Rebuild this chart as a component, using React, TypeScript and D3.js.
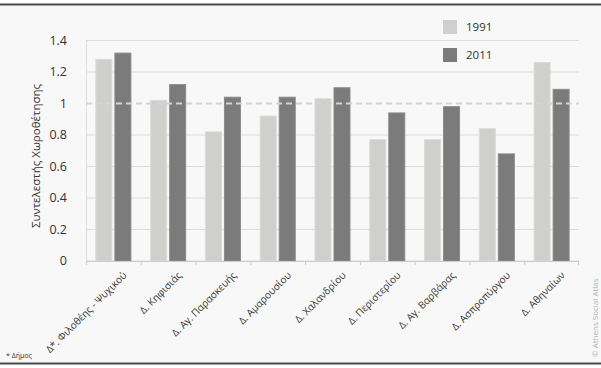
import * as d3 from 'd3'

const categories = [
  'Δ*. Φιλοθέης - Ψυχικού',
  'Δ. Κηφισιάς',
  'Δ. Αγ. Παρασκευής',
  'Δ. Αμαρουσίου',
  'Δ. Χαλανδρίου',
  'Δ. Περιστερίου',
  'Δ. Αγ. Βαρβάρας',
  'Δ. Ασπροπύργου',
  'Δ. Αθηναίων',
]
const values1991 = [1.28, 1.02, 0.82, 0.92, 1.03, 0.77, 0.77, 0.84, 1.26]
const values2011 = [1.32, 1.12, 1.04, 1.04, 1.1, 0.94, 0.98, 0.68, 1.09]
const yTicks = [0, 0.2, 0.4, 0.6, 0.8, 1, 1.2, 1.4]
const seriesNames = ['1991', '2011']

const W = 601
const H = 368
const margin = { top: 40.5, right: 22, bottom: 107, left: 86 }
const font = '"Open Sans", "Noto Sans", sans-serif'
const lightFill = '#cfcfcd'
const darkFill = '#7b7b7b'

export default function App() {
  const innerW = W - margin.left - margin.right
  const innerH = H - margin.top - margin.bottom

  const x = d3.scaleBand<string>().domain(categories).range([0, innerW])
  const y = d3.scaleLinear().domain([0, 1.4]).range([innerH, 0])
  const barW = 16
  const gap = 3

  return (
    <svg
      width={W}
      height={H}
      style={{ position: 'absolute', left: 0, top: 0, display: 'block', fontFamily: font }}
    >
      <rect x={0} y={0} width={W} height={H} fill="#ffffff" />
      <rect x={0} y={5} width={W} height={358} fill="#f8f8f8" />
      <line x1={0} x2={W} y1={4.5} y2={4.5} stroke="#4a4a4a" strokeWidth={2} />
      <line x1={0} x2={W} y1={363.5} y2={363.5} stroke="#4a4a4a" strokeWidth={2} />

      <g transform={`translate(${margin.left},${margin.top})`}>
        {yTicks.map((t) => (
          <g key={t}>
            {t !== 1 && (
              <line x1={0} x2={innerW} y1={y(t)} y2={y(t)} stroke="#dcdcdc" strokeWidth={1} />
            )}
            <text
              x={-19}
              y={y(t)}
              dy="0.35em"
              textAnchor="end"
              fontSize={12.5}
              fill="#333"
            >
              {d3.format('')(t)}
            </text>
          </g>
        ))}
        <line x1={0.5} x2={0.5} y1={0} y2={innerH} stroke="#dcdcdc" />
        {categories.map((c) => (
          <line
            key={'tk' + c}
            x1={(x(c) ?? 0) + 0.5}
            x2={(x(c) ?? 0) + 0.5}
            y1={innerH}
            y2={innerH + 4}
            stroke="#cccccc"
          />
        ))}
        <line x1={innerW - 0.5} x2={innerW - 0.5} y1={innerH} y2={innerH + 4} stroke="#cccccc" />

        {categories.map((c, i) => {
          const cx = (x(c) ?? 0) + x.bandwidth() / 2
          return (
            <g key={c}>
              <rect
                x={cx - gap / 2 - barW}
                y={y(values1991[i])}
                width={barW}
                height={innerH - y(values1991[i])}
                fill={lightFill}
                stroke="#dadad8"
                strokeWidth={1}
              />
              <rect
                x={cx + gap / 2}
                y={y(values2011[i])}
                width={barW}
                height={innerH - y(values2011[i])}
                fill={darkFill}
                stroke="#8a8a8a"
                strokeWidth={1}
              />
              <text
                transform={`translate(${cx + 14},${innerH + 15}) rotate(-45)`}
                textAnchor="end"
                fontSize={10}
                fill="#333"
              >
                {c}
              </text>
            </g>
          )
        })}
        <line x1={0} x2={innerW} y1={innerH + 0.5} y2={innerH + 0.5} stroke="#cccccc" />
        <line
          x1={0}
          x2={innerW}
          y1={y(1)}
          y2={y(1)}
          stroke="#d4d4d4"
          strokeWidth={2}
          strokeDasharray="6,4"
        />
      </g>

      <text
        transform={`translate(40,156) rotate(-90)`}
        textAnchor="middle"
        fontSize={11.5}
        fill="#333"
      >
        Συντελεστής Χωροθέτησης
      </text>

      {seriesNames.map((s, i) => (
        <g key={s} transform={`translate(443,${20 + i * 28})`}>
          <rect width={14} height={14} fill={i === 0 ? lightFill : darkFill} />
          <text x={23} y={10.5} fontSize={11.5} fill="#333">
            {s}
          </text>
        </g>
      ))}

      <text x={6} y={358} fontSize={7} fill="#333">
        * Δήμος
      </text>
      <text
        transform={`translate(598,357) rotate(-90)`}
        fontSize={8}
        fill="#b0b0b0"
      >
        © Athens Social Atlas
      </text>
    </svg>
  )
}
